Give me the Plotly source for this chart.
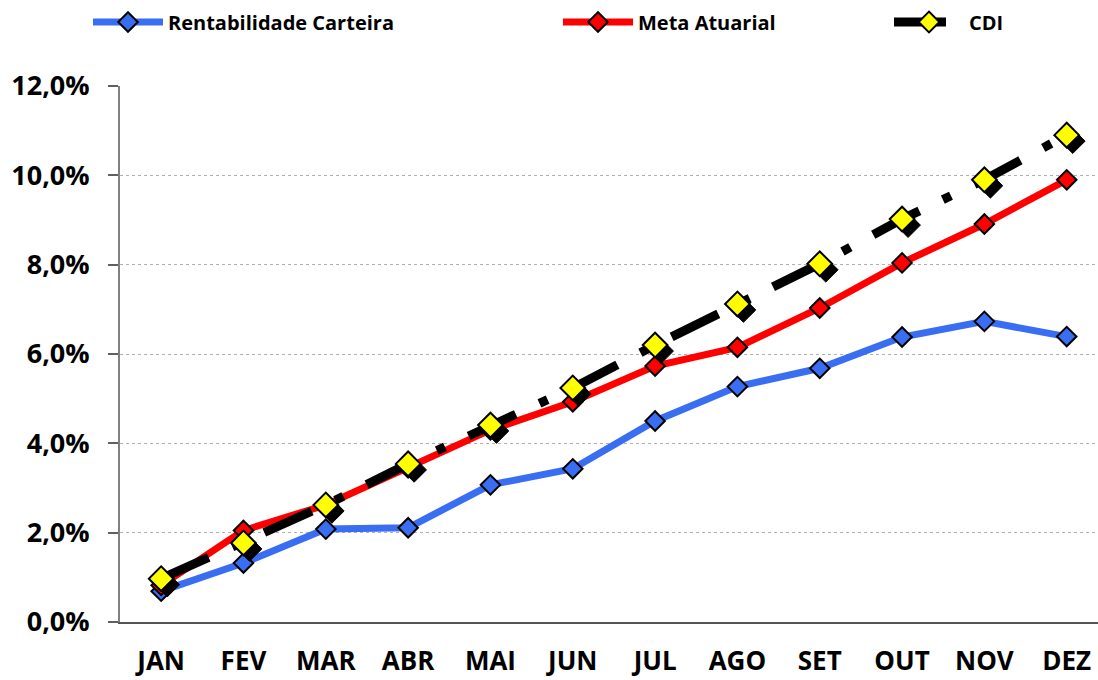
import plotly.graph_objects as go

months = ["JAN", "FEV", "MAR", "ABR", "MAI", "JUN", "JUL", "AGO", "SET", "OUT", "NOV", "DEZ"]
rentabilidade = [0.69, 1.32, 2.08, 2.11, 3.07, 3.43, 4.50, 5.27, 5.68, 6.38, 6.73, 6.39]
meta_atuarial = [0.82, 2.05, 2.62, 3.45, 4.30, 4.93, 5.73, 6.15, 7.03, 8.04, 8.91, 9.90]
cdi = [0.97, 1.77, 2.62, 3.54, 4.41, 5.24, 6.20, 7.12, 8.02, 9.02, 9.90, 10.90]
y_ticks = [0, 2, 4, 6, 8, 10, 12]

FONT = "Open Sans"
W, H = 1098, 680
ML, MR, MT, MB = 120, 0, 86, 58
XR = [-0.5, 11.38]
YR = [0, 12]
plot_w = W - ML - MR
plot_h = H - MT - MB
# shadow offset in pixels, converted through axis scales
sx = 6 * (XR[1] - XR[0]) / plot_w
sy = 6 * (YR[1] - YR[0]) / plot_h

idx = list(range(len(months)))

fig = go.Figure()
fig.add_trace(go.Scatter(
    x=idx, y=rentabilidade, name="Rentabilidade Carteira", mode="lines+markers",
    line=dict(color="#3A6EF2", width=7),
    marker=dict(symbol="diamond", size=15, color="#3A6EF2", line=dict(color="black", width=2)),
    legend="legend",
))
fig.add_trace(go.Scatter(
    x=idx, y=meta_atuarial, name="Meta Atuarial", mode="lines+markers",
    line=dict(color="#FF0000", width=7),
    marker=dict(symbol="diamond", size=15, color="#FF0000", line=dict(color="black", width=2)),
    legend="legend2",
))
# shadow markers on offset axes
fig.add_trace(go.Scatter(
    x=idx, y=cdi, mode="markers", showlegend=False, hoverinfo="skip",
    marker=dict(symbol="diamond", size=19, color="black", line=dict(color="black", width=1)),
    xaxis="x2", yaxis="y2",
))
fig.add_trace(go.Scatter(
    x=idx, y=cdi, name="CDI", mode="lines+markers",
    line=dict(color="black", width=9, dash="52px,26px,9px,26px"),
    marker=dict(symbol="diamond", size=19, color="#FFFF00", line=dict(color="black", width=2)),
    xaxis="x3", yaxis="y3", legend="legend3",
))

axis_font = dict(family=FONT, size=27, color="black", weight="bold")
x_font = dict(family=FONT, size=26, color="black", weight="bold")

fig.update_layout(
    width=W, height=H,
    margin=dict(l=ML, r=MR, t=MT, b=MB, autoexpand=False),
    paper_bgcolor="white", plot_bgcolor="white",
    separators=",.",
    xaxis=dict(
        range=XR, tickmode="array", tickvals=idx, ticktext=months,
        showgrid=False, zeroline=False, automargin=False,
        showline=True, linecolor="#555555", linewidth=2,
        ticks="", tickfont=x_font, ticklabelstandoff=15,
    ),
    yaxis=dict(
        range=YR, tickmode="array", tickvals=y_ticks,
        ticktext=[f"{v:.1f}%".replace(".", ",") for v in y_ticks],
        showgrid=True, gridcolor="#B0B0B0", griddash="dot", gridwidth=1,
        zeroline=False, automargin=False,
        showline=True, linecolor="#808080", linewidth=2,
        ticks="outside", ticklen=10, tickcolor="#606060", tickwidth=1.5,
        tickfont=axis_font, ticklabelstandoff=13,
    ),
    xaxis2=dict(range=[XR[0] - sx, XR[1] - sx], overlaying="x", visible=False),
    yaxis2=dict(range=[YR[0] + sy, YR[1] + sy], overlaying="y", visible=False),
    xaxis3=dict(range=XR, overlaying="x", visible=False),
    yaxis3=dict(range=YR, overlaying="y", visible=False),
    showlegend=True,
)

leg_common = dict(
    orientation="h", xref="container", yref="container", yanchor="middle", xanchor="left",
    y=1 - 22 / H, itemwidth=70, font=dict(family=FONT, size=20, color="black", weight="bold"),
    bgcolor="rgba(0,0,0,0)",
)
fig.update_layout(
    legend=dict(x=88 / W, **leg_common),
    legend2=dict(x=558 / W, **leg_common),
    legend3=dict(x=889 / W, **leg_common),
)

# category boundary tick marks on x axis
boundaries = [i - 0.5 for i in range(len(months) + 1)]
fig.add_trace(go.Scatter(
    x=[b for b in boundaries for _ in (0, 1, 2)],
    y=[v for _ in boundaries for v in (0, -0.22, None)],
    mode="lines", line=dict(color="#555555", width=1.5),
    showlegend=False, hoverinfo="skip", cliponaxis=False,
))

fig.write_html("out.html", config={"displayModeBar": False},
               post_script="document.body.style.margin='0';")
